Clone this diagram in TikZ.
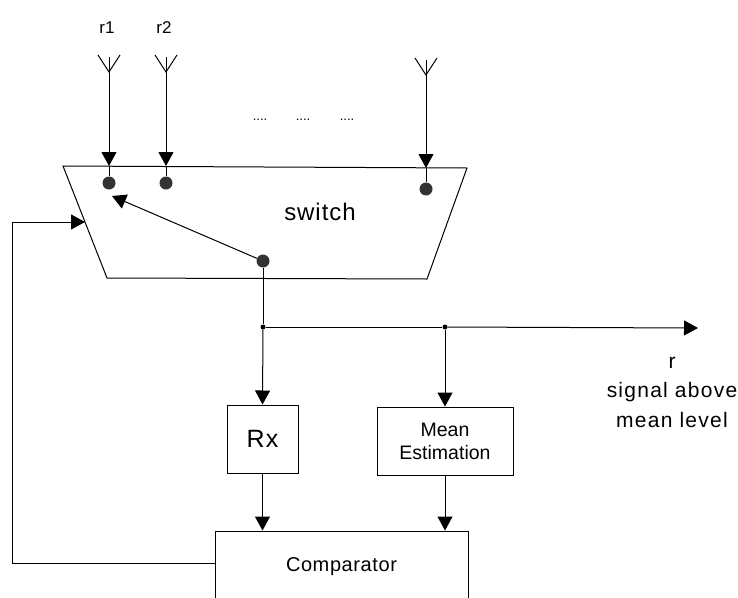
\documentclass[tikz,border=0pt]{standalone}
\usepackage{fontspec}
\setmainfont{Liberation Sans}
\usetikzlibrary{arrows.meta}
\tikzset{
  wire/.style={line width=1pt},
  arr/.style={wire,-{Triangle[width=15pt,length=14pt]}},
  block/.style={draw,line width=1pt,rectangle,inner sep=0pt},
  bigdot/.style={circle,fill=black!80,inner sep=0pt,minimum size=13pt},
  junc/.style={circle,fill=black,inner sep=0pt,minimum size=5pt},
  lbl/.style={inner sep=0pt,font=\fontsize{21}{29.5}\selectfont\addfontfeature{LetterSpace=6}}
}
\begin{document}
\begin{tikzpicture}[x=1pt,y=-1pt]
\path[use as bounding box,clip] (0,0) rectangle (738,597);
\fill[white] (0,0) rectangle (738,597);

% switch body
\draw[wire] (63,166) -- (467,168) -- (427,279) -- (107,278) -- cycle;
\node[inner sep=0pt,font=\fontsize{24}{28}\selectfont\addfontfeature{LetterSpace=4}] (sw) at (320,212) {switch};

% antennas
\foreach \n/\x/\yt/\ye/\yd in {a1/109/55/166/183, a2/166/55/166/183, a3/426/58/168/189}{
  \draw[wire] (\x-11,\yt) -- (\x,\yt+17) -- (\x+11,\yt);
  \draw[wire] (\x,\yt+2) -- (\x,\yt+17);
  \coordinate (\n base) at (\x,\yt+17);
  \coordinate (\n in) at (\x,\ye);
  \node[bigdot] (\n dot) at (\x,\yd) {};
  \draw[arr] (\n base) -- (\n in);
  \draw[wire] (\n in) -- (\n dot);
}
\node[inner sep=0pt,font=\fontsize{17}{20}\selectfont] (r1) at (107,28) {r1};
\node[inner sep=0pt,font=\fontsize{17}{20}\selectfont] (r2) at (164,28) {r2};
\foreach \x/\nm in {260/d1,303/d2,347/d3}
  \node[inner sep=0pt,font=\fontsize{13}{14}\selectfont] (\nm) at (\x,120) {....};

% switch arm
\node[bigdot] (pivot) at (263,261) {};
\coordinate (armtip) at (112,196);
\draw[arr] (pivot) -- (armtip);

% output
\node[junc] (j1) at (263,327) {};
\node[junc] (j2) at (445,327) {};
\coordinate (out) at (698,328);
\draw[wire] (pivot) -- (j1);
\draw[wire] (j1) -- (j2);
\draw[arr] (j2) -- (out);
\node[lbl,align=center] (olbl) at (672,392) {r\\signal above\\mean level};

% blocks
\node[block,minimum width=71pt,minimum height=68pt,font=\fontsize{25}{28}\selectfont\addfontfeature{LetterSpace=5}] (rx) at (262.5,439) {Rx};
\node[block,minimum width=136pt,minimum height=68pt,align=center,font=\fontsize{19.5}{23}\selectfont] (mean) at (445,441) {Mean\\Estimation};
\node[block,minimum width=253pt,minimum height=72pt,font=\fontsize{20}{22}\selectfont\addfontfeature{LetterSpace=3}] (cmp) at (341.5,567) {Comparator};

\draw[arr] (j1) -- (rx.north);
\draw[arr] (j2) -- (mean.north);
\draw[arr] (rx.south) -- (rx.south |- cmp.north);
\draw[arr] (mean.south) -- (mean.south |- cmp.north);

% feedback
\coordinate (fb) at (85,222);
\draw[arr] (cmp.west |- 0,563) -- (12,563) -- (12,222) -- (fb);
\end{tikzpicture}
\end{document}
